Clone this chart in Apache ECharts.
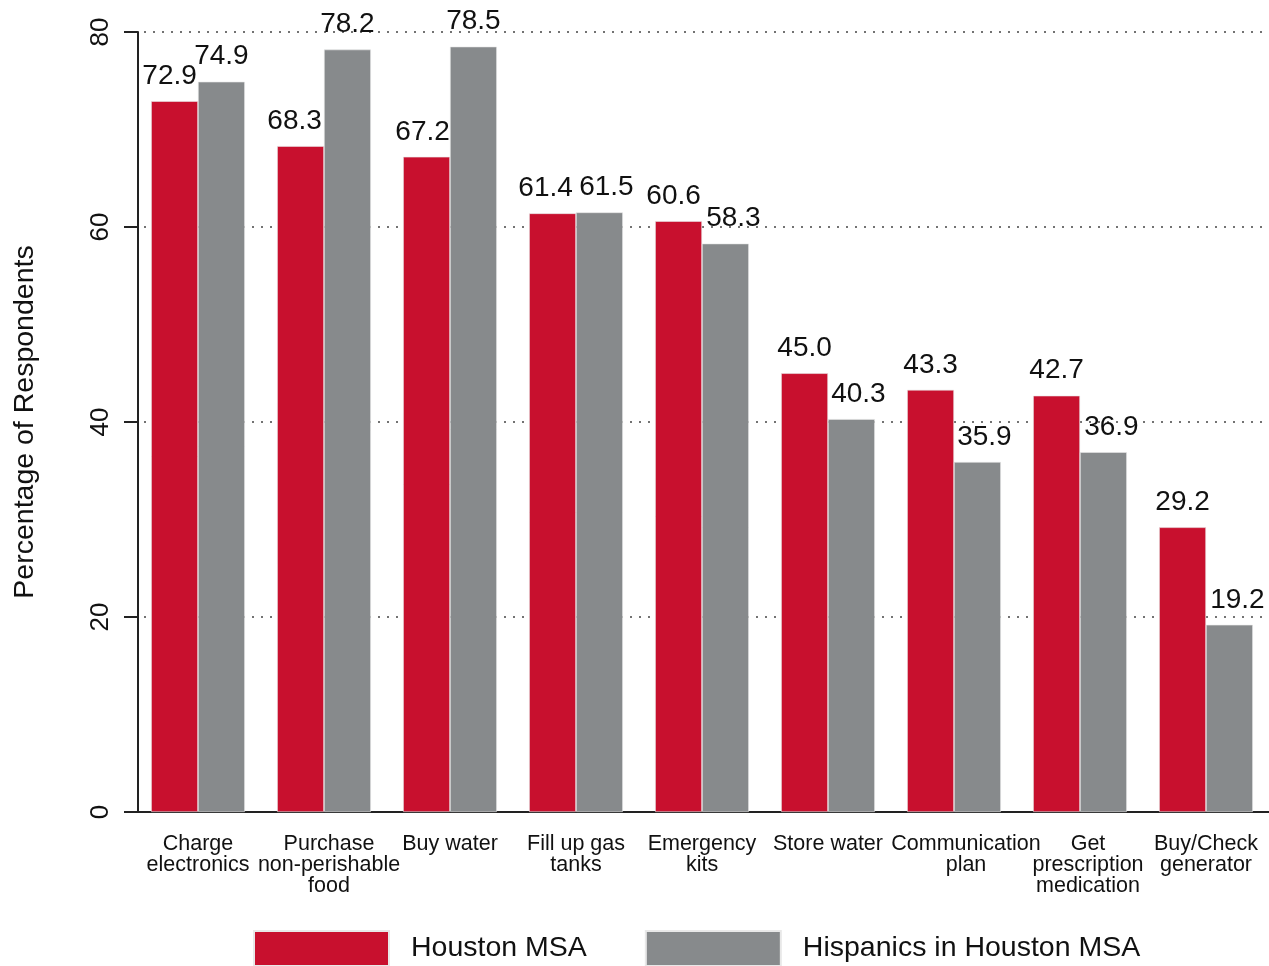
<!DOCTYPE html>
<html><head><meta charset="utf-8">
<script src="https://cdn.jsdelivr.net/npm/echarts@6/dist/echarts.min.js"></script>
<style>html,body{margin:0;padding:0;background:#fff}#c{width:1269px;height:966px}</style>
</head><body><div id="c"></div>
<script>
const categories = ["Charge\nelectronics","Purchase\nnon-perishable\nfood","Buy water","Fill up gas\ntanks","Emergency\nkits","Store water","Communication\nplan","Get\nprescription\nmedication","Buy/Check\ngenerator"];
const houston = [72.9,68.3,67.2,61.4,60.6,45.0,43.3,42.7,29.2];
const hispanics = [74.9,78.2,78.5,61.5,58.3,40.3,35.9,36.9,19.2];
const seriesNames = ["Houston MSA","Hispanics in Houston MSA"];
const yTicks = [0,20,40,60,80];

const font = "'Liberation Sans', Arial, sans-serif";
// layout nudges (px) reproducing the original label placement
const labelNudge = [0,10,0,0,0,0,24,16,0];
const redLabelDx = [-5,-6,-4,-7,-5,0,0,0,0];
const grayLabelDx = [0,0,0,7,8,7,7,8,8];

const chart = echarts.init(document.getElementById('c'), null, {renderer:'canvas'});
const lbl = {show:true, position:'top', distance:11, color:'#111', fontSize:28, fontFamily:font, formatter:p=>p.value.toFixed(1)};
const withDx = (vals, dx) => vals.map((v,i)=>({value:v, label:{offset:[dx[i],0]}}));
chart.setOption({
  animation:false,
  textStyle:{fontFamily:font},
  grid:{left:135, right:-3, top:32, bottom:154, containLabel:false},
  legend:{
    data:seriesNames, top:925, left:248, itemWidth:135, itemHeight:35, itemGap:58,
    icon:'rect',
    textStyle:{fontSize:28.5, color:'#111', fontFamily:font, padding:[0,0,0,17]}
  },
  xAxis:{
    type:'category',
    data:categories.map((c,i)=>({value:c, textStyle:{padding:[0,0,0,labelNudge[i]]}})),
    axisLine:{lineStyle:{color:'#222', width:2}},
    axisTick:{show:false},
    axisLabel:{color:'#111', fontSize:21.5, lineHeight:21, margin:22, interval:0, fontFamily:font}
  },
  yAxis:{
    type:'value', min:0, max:80, interval:20, offset:-3,
    name:'Percentage of Respondents', nameLocation:'middle', nameGap:98, nameRotate:90,
    nameTextStyle:{fontSize:28.5, color:'#111', fontFamily:font},
    axisLine:{show:true, lineStyle:{color:'#222', width:2}},
    axisTick:{show:true, length:14, lineStyle:{color:'#222', width:2}},
    axisLabel:{color:'#111', fontSize:26, rotate:90, margin:24, fontFamily:font, formatter:v=>yTicks.includes(v)?String(v):''},
    splitLine:{show:true, lineStyle:{color:'#444', width:1.5, type:[2,7]}}
  },
  series:[
    {name:seriesNames[0], type:'bar', data:withDx(houston, redLabelDx), barGap:'0%', barCategoryGap:'25.6%',
     itemStyle:{color:'#C8102E', borderColor:'#e8e8e8', borderWidth:0.6}, label:lbl},
    {name:seriesNames[1], type:'bar', data:withDx(hispanics, grayLabelDx),
     itemStyle:{color:'#878A8C', borderColor:'#e8e8e8', borderWidth:0.6}, label:lbl}
  ]
});
</script></body></html>
